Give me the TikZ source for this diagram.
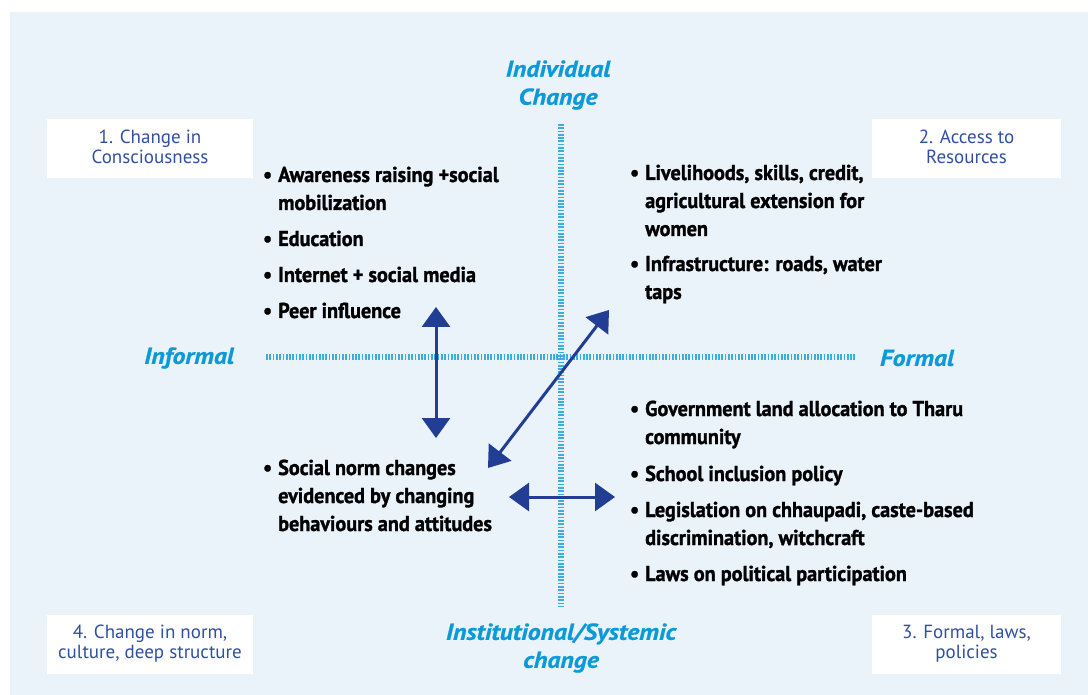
\documentclass[tikz,border=0pt]{standalone}
\usepackage{fontspec}
\setmainfont{PT Sans}
\newfontfamily\condfont{PT Sans Bold}[FakeStretch=0.94, FakeBold=1.3]
\newfontfamily\axisfont{PT Sans Bold Italic}[FakeStretch=1.12, FakeBold=0.8]
\usetikzlibrary{arrows.meta}
\definecolor{panelbg}{HTML}{EAF2FA}
\definecolor{axiscyan}{HTML}{0A9AD7}
\definecolor{tickcyan}{HTML}{3AAEE3}
\definecolor{cornerblue}{HTML}{3050A0}
\definecolor{arrowblue}{HTML}{223E93}
\tikzset{
  cornerbox/.style={fill=white, minimum width=206pt, minimum height=59pt, inner sep=0pt,
    align=center, text=cornerblue, font=\fontsize{19}{20}\selectfont},
  axislabel/.style={text=axiscyan, align=center, inner sep=0pt,
    font=\axisfont\fontsize{23}{28}\selectfont},
  item/.style={anchor=base west, align=left, inner sep=0pt, text=black,
    font=\condfont\fontsize{21.5}{28}\selectfont},
  axisline/.style={draw=tickcyan, line width=6pt, dash pattern=on 1.7pt off 1.6pt},
  biarrow/.style={draw=arrowblue, line width=3pt,
    {Triangle[width=28pt,length=20pt]}-{Triangle[width=28pt,length=20pt]}}
}
\newcommand{\bul}{\llap{\textbullet\hspace{6pt}}}
\begin{document}
\begin{tikzpicture}[x=1pt,y=-1pt]
\useasboundingbox (0,0) rectangle (1088,695);
\fill[white] (0,0) rectangle (1088,695);
\fill[panelbg] (10,12) rectangle (1088,695);
% axes
\coordinate (hl) at (266,357);
\coordinate (hr) at (855,357);
\coordinate (vt) at (561,124);
\coordinate (vb) at (561,606);
\draw[axisline] (hl) -- (hr);
\draw[axisline] (vt) -- (vb);
% corner boxes
\fill[white] (47,119) rectangle (253,178);
\node[cornerbox, fill=none] (c1) at (150,146.5) {1. Change in\\Consciousness};
\fill[white] (872,119) rectangle (1061,178);
\node[cornerbox, fill=none, minimum width=189pt] (c2) at (966.5,146.5) {2. Access to\\Resources};
\node[cornerbox] (c4) at (150,644) {4. Change in norm,\\culture, deep structure};
\node[cornerbox, minimum width=189pt] (c3) at (966.5,644) {3. Formal, laws,\\policies};
% axis labels
\node[axislabel] (ind) at (558,85) {Individual\\Change};
\node[axislabel] (inf) at (189,358) {Informal};
\node[axislabel] (for) at (917,358) {Formal};
\node[axislabel] (ins) at (561,648) {Institutional/Systemic\\change};
% left column items (anchor = baseline of last line)
\node[item] (l1) at (278,210) {\bul Awareness raising +social\\mobilization};
\node[item] (l2) at (278,246) {\bul Education};
\node[item] (l3) at (278,282) {\bul Internet + social media};
\node[item] (l4) at (278,318) {\bul Peer influence};
\node[item] (l5) at (278,531) {\bul Social norm changes\\evidenced by changing\\behaviours and attitudes};
% right column items
\node[item] (r1) at (645,236) {\bul Livelihoods, skills, credit,\\agricultural extension for\\women};
\node[item] (r2) at (645,299) {\bul Infrastructure: roads, water\\taps};
\node[item] (r3) at (645,444) {\bul Government land allocation to Tharu\\community};
\node[item] (r4) at (645,481) {\bul School inclusion policy};
\node[item] (r5) at (645,545) {\bul Legislation on chhaupadi, caste-based\\discrimination, witchcraft};
\node[item] (r6) at (645,581) {\bul Laws on political participation};
% arrows
\coordinate (va) at (436,307);
\coordinate (vbt) at (436,438);
\coordinate (da) at (609,310);
\coordinate (db) at (488,468);
\coordinate (ha) at (509,497);
\coordinate (hb) at (615,497);
\draw[biarrow] (va) -- (vbt);
\draw[biarrow] (da) -- (db);
\draw[biarrow] (ha) -- (hb);
\end{tikzpicture}
\end{document}
